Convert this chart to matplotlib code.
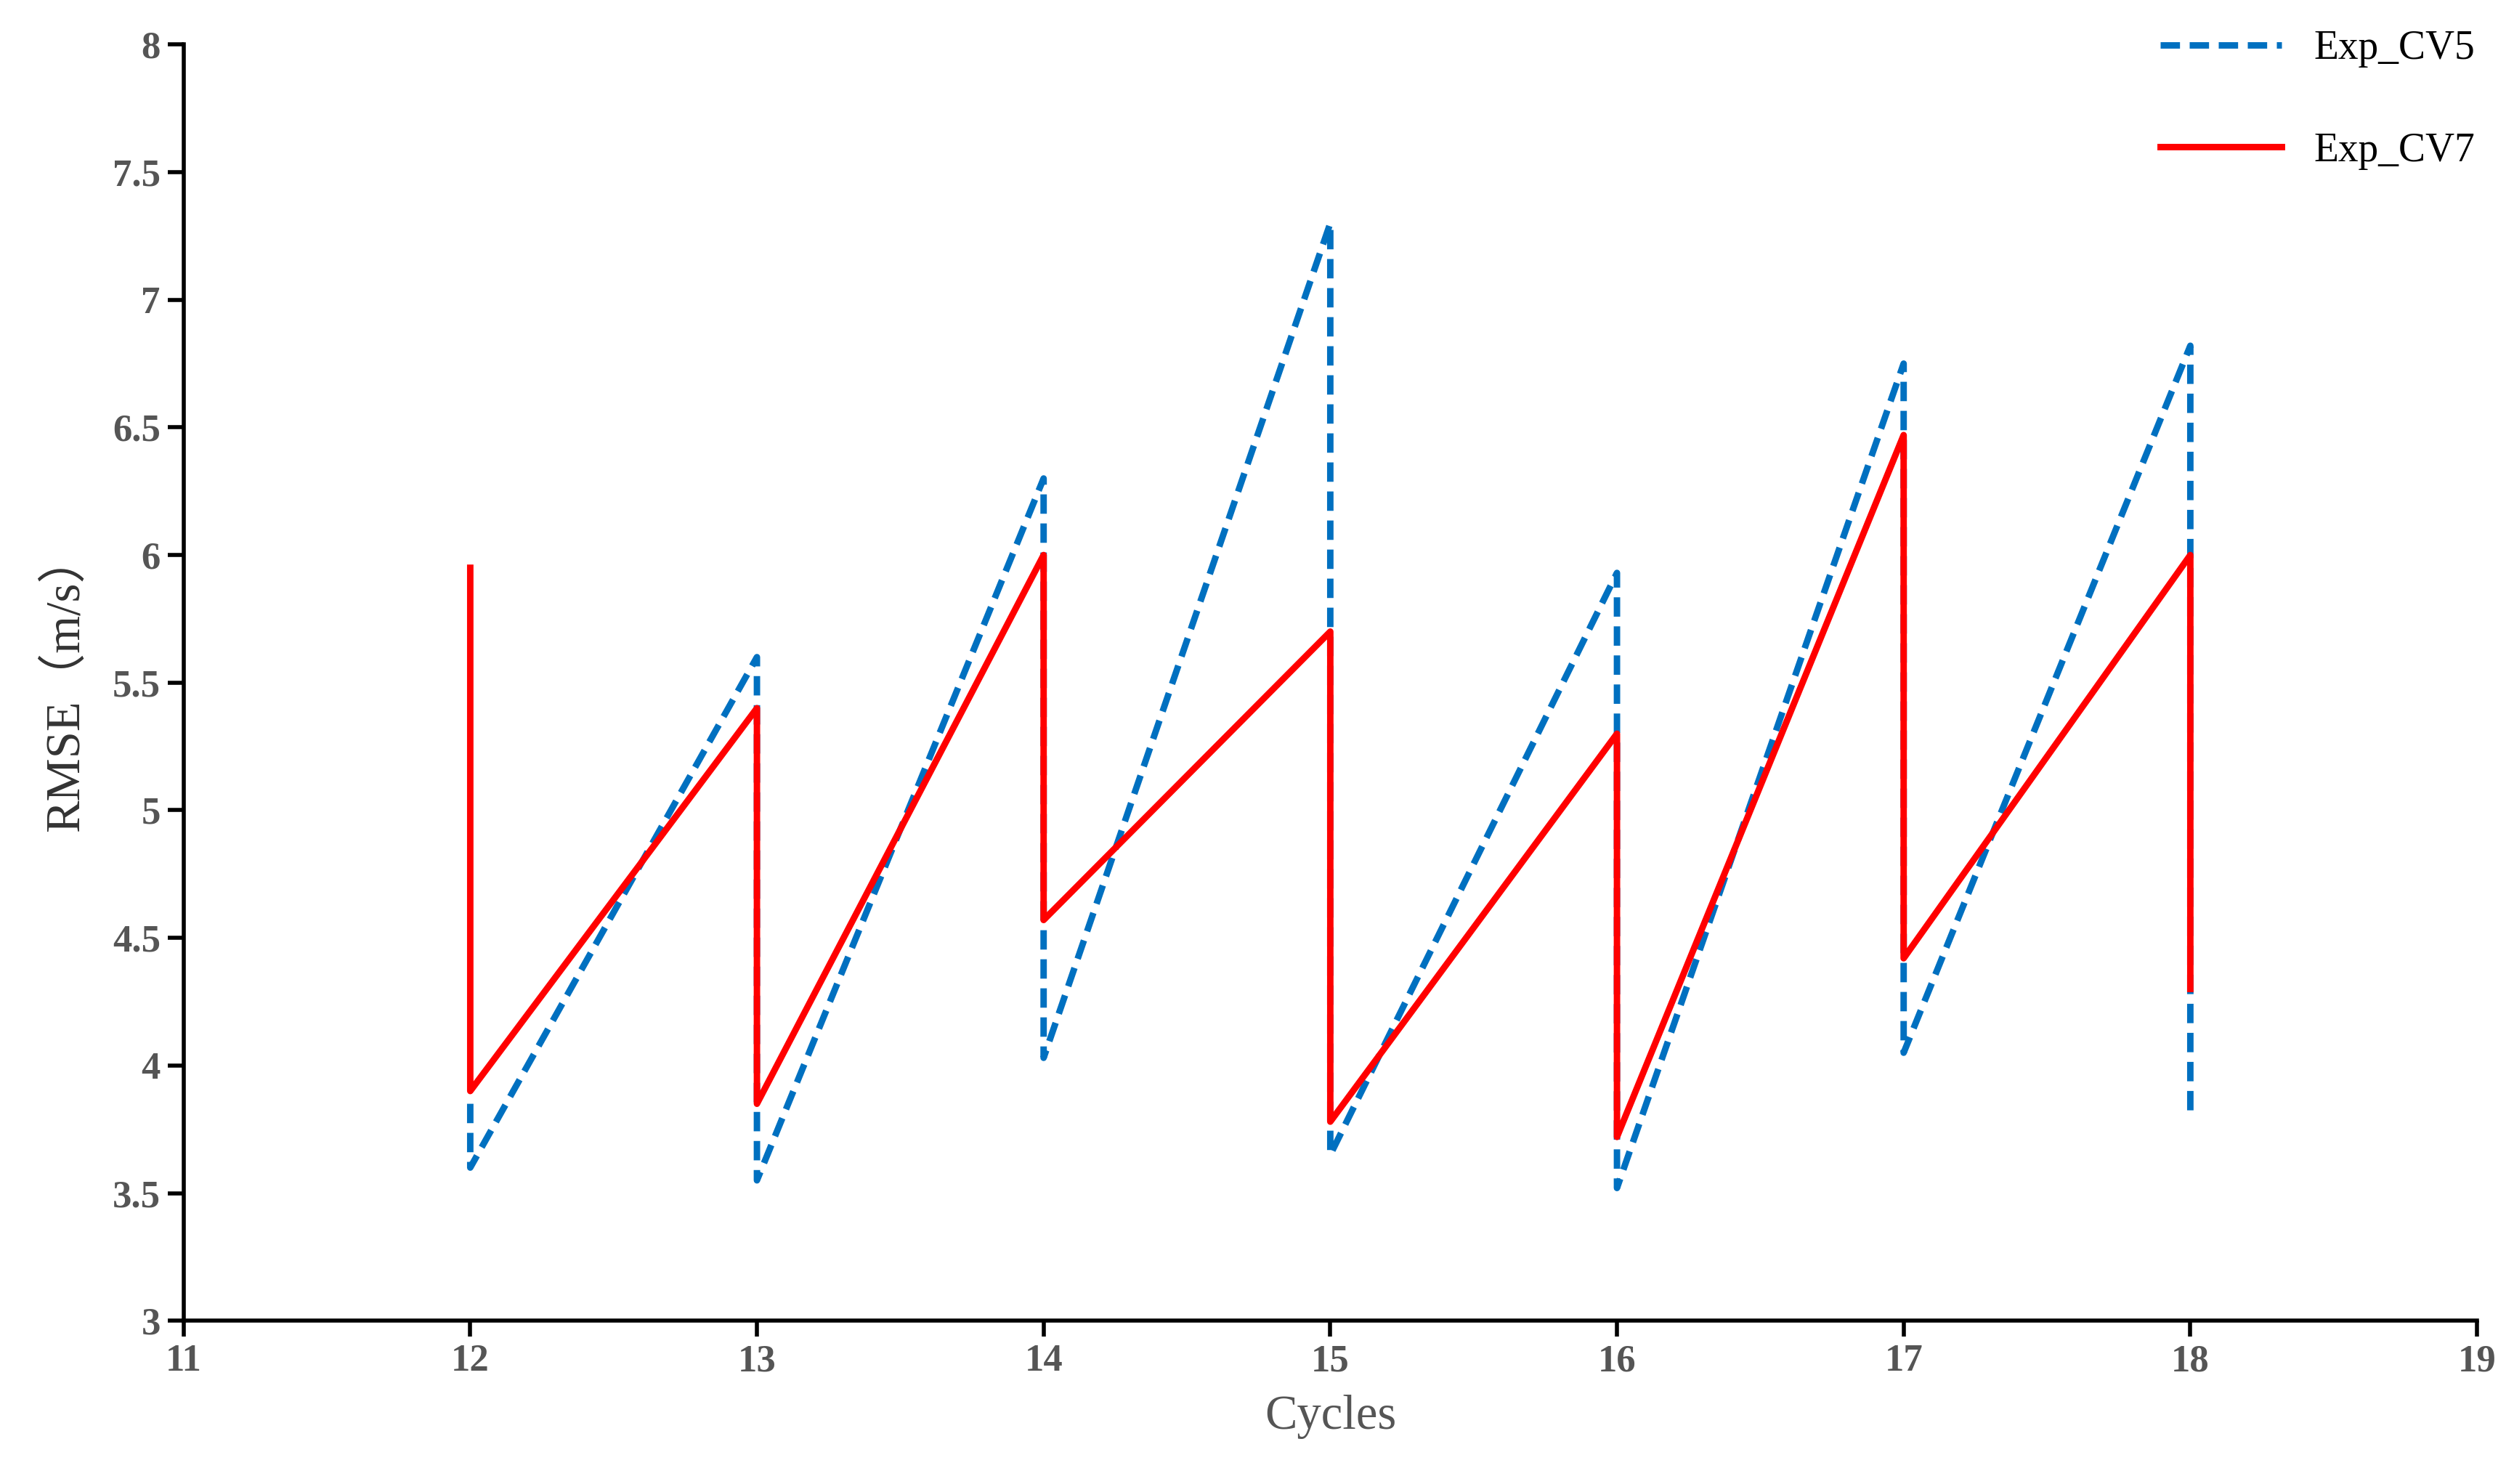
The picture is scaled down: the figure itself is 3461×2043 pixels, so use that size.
import matplotlib.pyplot as plt

plt.rcParams['font.family'] = ['Liberation Serif', 'Noto Sans CJK SC']

# sawtooth data: each cycle has a peak and a post-drop value at the same x
cv5_x = [12, 12, 13, 13, 14, 14, 15, 15, 16, 16, 17, 17, 18, 18]
cv5_y = [3.85, 3.6, 5.6, 3.55, 6.3, 4.03, 7.3, 3.65, 5.93, 3.52, 6.75, 4.05, 6.82, 3.8]
cv7_x = [12, 12, 13, 13, 14, 14, 15, 15, 16, 16, 17, 17, 18, 18]
cv7_y = [5.95, 3.9, 5.4, 3.85, 6.0, 4.57, 5.7, 3.78, 5.3, 3.72, 6.47, 4.42, 6.0, 4.3]

fig = plt.figure(figsize=(17.31, 10.215), dpi=200)
ax = fig.add_axes([0.073, 0.11, 0.912, 0.86])
ax.plot(cv5_x, cv5_y, color='#0070C0', linestyle=(0, (3, 1.5)), linewidth=3.2, label='Exp_CV5')
ax.plot(cv7_x, cv7_y, color='#FF0000', linewidth=3.2, label='Exp_CV7')

ax.set_xlim(11, 19)
ax.set_ylim(3, 8)
ax.set_xticks(range(11, 20))
ax.set_yticks([3, 3.5, 4, 4.5, 5, 5.5, 6, 6.5, 7, 7.5, 8])
ax.set_yticklabels(['3', '3.5', '4', '4.5', '5', '5.5', '6', '6.5', '7', '7.5', '8'])
for s in ['top', 'right']:
    ax.spines[s].set_visible(False)
for s in ['left', 'bottom']:
    ax.spines[s].set_linewidth(2)
ax.tick_params(direction='out', length=8, width=2, labelsize=19, labelcolor='#555555')
for lab in ax.get_xticklabels() + ax.get_yticklabels():
    lab.set_fontweight('bold')
ax.set_xlabel('Cycles', fontsize=24, color='#555555', labelpad=8)
ax.set_ylabel('RMSE（m/s）', fontsize=24, color='#333333', labelpad=12)

ax.legend(loc='upper right', bbox_to_anchor=(1.015, 1.04), frameon=False, fontsize=20,
          handlelength=3, labelspacing=1.6)

fig.savefig('out.png', dpi=200)
